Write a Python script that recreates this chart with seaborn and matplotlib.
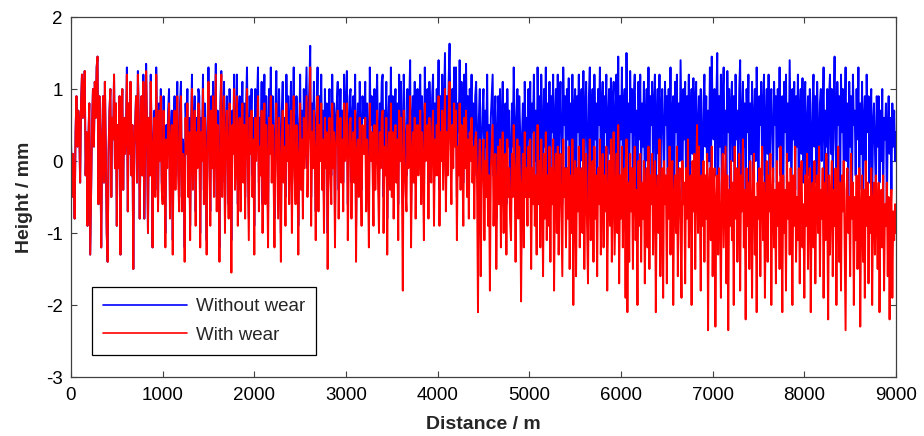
import numpy as np
import pandas as pd
import matplotlib
matplotlib.use("Agg")
import matplotlib.pyplot as plt
import seaborn as sns

# Height profiles sampled every 10 m (0 ... 9000 m), one row = 100 m
without_wear = [
    0.3, -0.5, 0.1, -0.2, -0.8, 0.4, 0.9, 0.2, 0.7, 0.5,
    -0.3, 0.8, 1.2, 0.6, 0.9, 1.25, -0.2, 0.4, -0.9, 0.3,
    0.8, -1.3, -0.4, 0.5, 1.0, 0.2, 1.1, 0.6, 1.3, 1.45,
    -0.6, 0.9, 0.4, -1.2, 0.2, 0.9, -0.3, 1.1, 0.2, -1.0,
    -1.4, 0.1, 0.7, 1.0, -0.5, 0.6, 0.3, 1.2, -0.1, 0.8,
    -0.9, 0.5, -0.1, 0.9, -1.3, 0.3, 1.0, -0.4, 0.6, 0.1,
    0.4, 1.3, -0.7, 0.8, 0.1, 1.1, -0.2, 0.5, -1.5, 0.2,
    0.5, 0.9, -0.3, 1.25, 0.6, -0.8, 0.4, 0.9, -0.2, 1.2,
    -0.8, 0.2, 1.35, 0.4, -1.0, 0.6, -0.2, 1.2, 0.3, -1.2,
    0.3, 0.7, -0.4, 1.3, 0.5, -0.6, 0.8, 0.1, 1.0, -0.3,
    -0.4, 0.9, 0.1, -1.0, 0.5, 0.1, 0.7, 1.0, -0.6, 0.4,
    0.7, -1.1, 0.4, 0.9, -0.2, 0.6, 1.1, 0.0, -0.5, 0.8,
    1.1, -0.5, 0.3, 0.2, -1.2, 0.8, 0.3, 1.0, -0.3, 0.6,
    -0.9, 0.5, 1.2, -0.2, 0.4, 0.9, -0.7, 0.6, 0.1, 1.0,
    0.9, -1.0, 0.6, 0.2, 1.2, -0.4, 0.8, 0.2, -1.1, 0.5,
    1.3, 0.4, -0.7, 0.9, 0.1, 1.1, -0.3, 0.6, 1.35, -0.5,
    0.7, 0.1, -1.2, 0.8, 1.25, -0.3, 0.5, 1.1, -0.8, 0.4,
    0.9, 0.2, -0.6, 1.0, 0.4, -1.1, 0.7, 0.3, 1.2, -0.2,
    0.3, 1.2, -0.6, 0.6, 0.9, -0.4, 0.5, 1.1, 0.0, 0.8,
    -0.5, 0.7, 1.3, 0.2, -0.8, 0.9, 0.4, 1.0, -0.2, 0.6,
    -0.9, 1.0, 0.4, 0.8, 1.3, -0.3, 0.6, 0.2, 1.1, -0.6,
    0.6, 1.2, -0.2, 0.9, 0.3, -0.8, 1.0, 0.5, 1.3, 0.1,
    0.9, 0.2, -0.8, 0.7, 1.25, 0.4, -0.4, 1.0, 0.3, -1.0,
    0.7, 1.1, 0.1, 0.6, -0.5, 1.2, 0.4, 0.9, -0.2, 0.5,
    1.1, -0.6, 0.6, 1.3, 0.2, -0.2, 0.9, 0.5, -0.9, 0.4,
    1.2, 0.0, 0.7, -0.4, 1.0, 0.3, 0.8, 1.3, -0.1, 0.6,
    1.0, 1.6, -0.5, 0.8, 0.3, 1.1, 0.5, -0.7, 0.6, 1.3,
    -0.3, 0.9, 0.4, 1.2, 0.0, 0.7, -0.6, 1.0, 0.3, 0.8,
    -1.0, 0.5, 1.0, 0.2, -0.2, 1.2, 0.3, 0.8, -0.8, 0.6,
    0.8, 1.1, -0.4, 0.5, 1.0, 0.1, 0.7, -0.3, 1.2, 0.4,
    0.7, 1.25, -0.6, 0.4, 0.9, 1.0, -0.3, 0.6, 0.9, 0.2,
    1.2, -0.9, 0.5, 0.8, 0.0, 1.1, 0.4, -0.4, 0.9, 0.6,
    0.6, 1.1, -0.2, 0.8, 0.3, -0.7, 1.3, 0.5, 0.9, 0.4,
    -0.4, 1.0, 0.1, 0.7, 1.2, 0.2, -0.5, 0.8, 0.4, 1.1,
    1.2, -0.5, 0.7, 0.3, 1.1, -0.8, 0.5, 0.9, 0.1, 1.3,
    0.0, 0.9, -0.3, 0.6, 1.0, 0.2, 0.8, -0.6, 1.2, 0.5,
    1.1, 0.3, -0.6, 1.2, 0.6, 0.1, -0.2, 1.0, 0.4, 0.8,
    1.4, -0.7, 0.5, 0.9, 0.2, 1.1, -0.3, 0.7, 1.0, 0.3,
    0.8, 1.2, -0.1, 0.9, 0.4, -0.6, 1.3, 0.5, 0.7, 1.0,
    -0.3, 1.1, 0.6, 0.2, 0.9, 1.2, -0.4, 0.8, 0.3, 1.0,
    0.4, 1.4, -0.4, 0.9, 0.5, 1.2, 0.1, 0.8, 1.5, -0.2,
    0.9, 0.3, 1.1, 1.63, 0.6, -0.1, 1.0, 0.4, 1.3, 0.7,
    1.3, -0.5, 0.8, 0.4, 1.4, 0.2, 1.1, 0.6, -0.3, 1.2,
    0.5, 1.35, 0.1, 0.9, -0.2, 1.0, 0.6, 1.2, 0.3, 0.8,
    -0.2, 0.9, 1.1, 0.3, -0.6, 0.6, 1.0, -1.0, 0.3, 0.7,
    1.0, -0.4, 0.7, 0.2, 1.2, -0.2, 0.5, -0.8, 0.6, 0.9,
    1.2, -0.2, 0.5, 0.9, -0.8, 0.3, 0.9, 0.1, 1.0, -0.5,
    0.6, 1.1, -0.3, 0.4, 0.8, -0.6, 1.0, 0.2, 0.7, -0.1,
    -0.4, 0.8, 0.2, 1.3, 0.5, -0.7, 0.6, 1.0, -0.1, 0.9,
    0.4, -1.3, 0.3, 0.8, -0.5, 1.1, 0.2, 0.6, -0.2, 1.0,
    0.3, 1.1, -0.6, 0.8, 0.4, 1.2, 0.0, 0.7, -0.4, 1.3,
    0.4, 0.9, -0.3, 1.2, 0.5, -0.7, 1.0, 0.2, 1.3, -0.2,
    0.8, 0.1, 1.1, -0.5, 0.9, 0.4, 1.2, -0.8, 0.6, 1.0,
    0.0, 1.2, -0.3, 0.7, 1.1, 0.2, -0.6, 1.3, 0.5, 0.9,
    -0.2, 1.0, 0.3, 1.15, -0.5, 0.8, 0.1, 1.2, -0.4, 0.7,
    1.0, -0.6, 0.9, 0.4, 1.2, -0.2, 0.8, 1.0, 0.0, 1.25,
    -0.5, 0.7, 1.1, 0.2, -0.7, 0.9, 1.3, -0.1, 0.6, 1.0,
    -0.4, 1.2, 0.3, 0.8, -0.6, 1.0, 0.5, 1.3, -0.3, 0.7,
    1.1, -0.2, 0.9, 0.4, 1.2, -0.8, 0.6, 1.0, 0.1, 1.15,
    -0.4, 0.8, 1.1, -0.3, 0.5, 1.2, 0.0, 1.45, -0.6, 0.9,
    0.3, 1.3, -0.2, 0.7, 1.0, -0.7, 1.5, 0.2, 0.8, -0.4,
    1.25, 0.4, 1.0, -0.5, 0.9, 1.2, 0.1, 0.7, -0.8, 1.1,
    0.3, 1.2, -0.3, 0.8, 0.2, 1.1, -0.6, 0.6, 1.0, 0.0,
    1.3, -0.4, 0.9, 0.5, 1.1, -0.2, 0.8, 1.2, -0.7, 0.6,
    1.0, 0.1, 1.2, -0.5, 0.7, 1.0, 0.3, -0.3, 1.1, 0.5,
    0.9, -0.6, 1.0, 0.2, 1.3, -0.2, 0.7, 0.9, -0.7, 1.1,
    0.4, 1.2, -0.3, 0.8, 0.0, 1.4, 0.5, -0.5, 1.0, 0.3,
    1.1, -0.4, 0.9, 0.2, 1.2, -0.8, 0.7, 1.0, 0.1, 1.15,
    -0.3, 0.8, 1.1, -0.6, 0.5, 0.9, -0.2, 1.0, 0.3, -0.5,
    0.8, 1.2, 0.2, 0.9, -0.3, 0.7, 0.0, 1.3, -0.6, 1.45,
    0.6, 0.3, 1.0, -0.2, 0.8, 1.5, -0.4, 0.9, 0.2, 1.2,
    -0.5, 0.9, 1.3, 0.1, 0.7, -0.3, 1.25, 0.4, 1.0, -0.6,
    0.8, 1.1, 0.0, 0.9, -0.5, 1.2, 0.3, 0.7, -0.2, 1.0,
    1.4, -0.4, 0.6, 1.1, 0.2, 0.8, -0.7, 1.0, 0.4, 1.2,
    -0.3, 0.8, 0.1, 1.1, -0.6, 0.6, 1.0, 0.0, 1.3, 0.5,
    -0.4, 0.9, 0.5, 1.1, -0.2, 0.8, 1.2, -0.7, 0.6, 1.0,
    0.1, 1.2, -0.5, 0.7, 1.0, 0.3, -0.3, 1.1, 0.5, 0.9,
    -0.6, 1.0, 0.2, 1.3, -0.2, 0.7, 0.9, -0.7, 1.1, 0.4,
    1.2, -0.3, 0.8, 0.0, 1.4, 0.5, -0.5, 1.0, 0.3, 1.1,
    -0.4, 0.9, 0.2, 1.2, -0.8, 0.7, 1.0, 0.1, 1.15, -0.3,
    0.8, 1.1, -0.6, 0.5, 0.9, -0.2, 1.0, 0.3, -0.5, 0.8,
    1.2, 0.2, 0.9, -0.3, 1.1, 0.4, -0.7, 0.8, 1.0, 0.0,
    0.6, 1.3, -0.4, 0.7, 0.2, 1.0, -0.6, 0.9, 1.2, 0.1,
    1.0, -0.5, 0.8, 1.45, 0.3, -0.2, 1.1, 0.5, 0.9, -0.7,
    1.2, 0.4, 1.0, -0.3, 0.6, 1.3, 0.0, 0.8, -0.5, 1.1,
    0.2, 0.9, -0.6, 1.2, 0.5, 0.7, -0.2, 1.0, 0.3, 1.3,
    -0.4, 0.8, 0.1, 1.1, -0.8, 0.6, 0.9, 0.0, 1.2, 0.4,
    0.9, -0.3, 0.7, 1.0, -0.6, 0.5, 0.8, 0.2, -0.5, 0.9,
    0.2, 0.9, -0.3, 0.7, 0.0, 1.0, -0.6, 0.6, 0.3, 0.8,
    -0.7, 0.5, 0.9, 0.1, 0.6, -0.4, 0.8, 0.2, 0.7, 0.0,
    0.4,
]

with_wear = [
    0.3, -0.5, 0.1, -0.2, -0.8, 0.4, 0.9, 0.2, 0.7, 0.5,
    -0.3, 0.8, 1.2, 0.6, 0.9, 1.25, -0.2, 0.4, -0.9, 0.3,
    0.8, -1.3, -0.4, 0.5, 1.0, 0.2, 1.1, 0.6, 1.3, 1.45,
    -0.6, 0.9, 0.4, -1.2, 0.2, 0.9, -0.3, 1.1, 0.2, -1.0,
    -1.4, 0.1, 0.7, 1.0, -0.5, 0.6, 0.3, 1.2, -0.1, 0.8,
    -0.9, 0.5, -0.1, 0.9, -1.3, 0.3, 1.0, -0.4, 0.6, 0.1,
    0.4, 1.2, -0.7, 0.8, 0.1, 1.1, -0.2, 0.5, -1.5, 0.2,
    0.5, 0.9, -0.3, 1.2, 0.6, -0.8, 0.4, 0.9, -0.2, 1.1,
    -0.8, 0.2, 1.25, 0.4, -1.0, 0.6, -0.2, 1.1, 0.3, -1.2,
    0.2, 0.6, -0.5, 1.2, 0.4, -0.7, 0.7, 0.0, 0.9, -0.4,
    -0.6, 0.7, -0.1, -1.2, 0.3, -0.1, 0.5, 0.8, -0.8, 0.2,
    0.5, -1.3, 0.2, 0.7, -0.4, 0.4, 0.9, -0.2, -0.7, 0.6,
    0.9, -0.7, 0.1, 0.0, -1.4, 0.6, 0.1, 0.8, -0.5, 0.4,
    -1.1, 0.3, 1.0, -0.4, 0.2, 0.7, -0.9, 0.4, -0.1, 0.8,
    0.7, -1.2, 0.4, 0.0, 1.0, -0.6, 0.6, 0.0, -1.3, 0.3,
    1.1, 0.2, -0.9, 0.7, -0.1, 0.9, -0.5, 0.4, 1.2, -0.7,
    0.5, -0.1, -1.4, 0.6, 1.2, -0.5, 0.3, 0.9, -1.0, 0.2,
    0.7, 0.0, -0.8, 0.8, 0.2, -1.55, 0.5, 0.1, 1.0, -0.4,
    0.0, 0.9, -0.9, 0.3, 0.6, -0.7, 0.2, 0.8, -0.3, 0.5,
    -0.8, 0.4, 1.0, -0.1, -1.1, 0.6, 0.1, 0.7, -0.5, 0.3,
    -1.3, 0.6, 0.0, 0.4, 0.9, -0.7, 0.2, -0.2, 0.7, -1.0,
    0.2, 0.8, -0.6, 0.5, -0.1, -1.2, 0.6, 0.1, 0.9, -0.3,
    0.5, -0.2, -1.2, 0.3, 0.8, 0.0, -0.8, 0.6, -0.1, -1.4,
    0.3, 0.7, -0.3, 0.2, -0.9, 0.8, 0.0, 0.5, -0.6, 0.1,
    0.7, -1.0, 0.2, 0.9, -0.2, -0.6, 0.5, 0.1, -1.3, 0.0,
    0.8, -0.4, 0.3, -0.8, 0.6, -0.1, 0.4, 0.9, -0.5, 0.2,
    0.6, 1.3, -0.9, 0.4, -0.1, 0.7, 0.1, -1.1, 0.2, 0.9,
    -0.7, 0.5, 0.0, 0.8, -0.4, 0.3, -1.0, 0.6, -0.1, 0.4,
    -1.5, 0.1, 0.6, -0.2, -0.6, 0.8, -0.1, 0.4, -1.2, 0.2,
    0.4, 0.7, -0.8, 0.1, 0.6, -0.3, 0.3, -0.7, 0.8, 0.0,
    0.2, 0.8, -1.1, -0.1, 0.5, 0.6, -0.8, 0.2, 0.4, -0.3,
    0.7, -1.4, 0.1, 0.3, -0.5, 0.6, -0.1, -0.9, 0.5, 0.1,
    0.1, 0.6, -0.7, 0.3, -0.2, -1.2, 0.8, 0.0, 0.4, -0.1,
    -0.9, 0.5, -0.4, 0.2, 0.7, -0.3, -1.0, 0.4, -0.1, 0.6,
    0.7, -1.0, 0.2, -0.2, 0.6, -1.3, 0.0, 0.4, -0.4, 0.8,
    -0.5, 0.4, -0.8, 0.1, 0.5, -0.3, 0.3, -1.1, 0.7, 0.0,
    0.6, -0.2, -1.8, 0.7, 0.1, -0.4, -0.7, 0.5, -0.1, 0.3,
    0.9, -1.2, 0.0, 0.4, -0.3, 0.6, -0.8, 0.2, 0.5, -0.2,
    0.3, 0.7, -0.6, 0.4, -0.1, -1.1, 0.8, 0.0, 0.2, 0.5,
    -0.8, 0.6, 0.1, -0.3, 0.4, 0.7, -0.9, 0.3, -0.2, 0.5,
    -0.2, 0.9, -0.9, 0.4, 0.0, 0.7, -0.4, 0.3, 1.0, -0.7,
    0.4, -0.2, 0.6, 1.1, 0.1, -0.6, 0.5, -0.1, 0.8, 0.2,
    0.7, -1.1, 0.2, -0.2, 0.8, -0.4, 0.5, 0.0, -0.9, 0.6,
    -0.1, 0.7, -0.5, 0.3, -0.8, 0.4, 0.0, 0.6, -0.3, 0.2,
    -0.8, 0.3, 0.4, -0.3, -2.1, -0.1, 0.3, -1.6, -0.4, 0.1,
    0.3, -1.1, 0.0, -0.5, 0.4, -0.9, -0.2, -1.8, -0.1, 0.2,
    0.5, -0.9, -0.2, 0.1, -1.5, -0.4, 0.2, -0.6, 0.3, -1.2,
    -0.1, 0.4, -1.0, -0.3, 0.1, -1.3, 0.3, -0.5, -0.1, -0.8,
    -1.1, 0.1, -0.5, 0.5, -0.2, -1.4, -0.1, 0.3, -0.8, 0.2,
    -0.3, -1.95, -0.4, 0.1, -1.2, 0.4, -0.5, -0.1, -0.9, 0.2,
    -0.5, 0.3, -1.5, -0.1, -0.6, 0.4, -0.9, -0.2, -1.3, 0.5,
    -0.6, 0.0, -1.2, 0.3, -0.4, -1.6, 0.1, -0.8, 0.4, -1.1,
    -0.2, -0.9, 0.2, -1.4, -0.1, -0.6, 0.3, -1.8, -0.3, 0.1,
    -1.0, 0.2, -1.3, -0.3, 0.1, -0.8, -1.6, 0.3, -0.5, -0.1,
    -1.2, -0.1, -0.8, 0.2, -1.5, -0.2, -1.0, 0.3, -2.0, -0.4,
    0.0, -1.6, -0.1, -0.7, 0.2, -1.2, -0.3, -0.1, -1.0, 0.3,
    -1.5, -0.4, 0.1, -0.9, -1.7, -0.2, 0.3, -1.1, -0.5, 0.0,
    -1.4, 0.2, -0.8, -0.2, -1.6, -0.1, -0.6, 0.3, -1.3, -0.4,
    0.1, -1.2, -0.2, -0.7, 0.2, -1.8, -0.5, 0.0, -0.9, 0.3,
    -1.4, -0.3, 0.4, -1.3, -0.6, 0.1, -1.0, 0.5, -1.7, -0.2,
    -0.8, 0.2, -1.2, -0.4, -0.1, -1.9, 0.3, -2.1, -0.3, -1.4,
    0.1, -0.7, -0.1, -1.5, -0.2, 0.2, -1.1, -0.4, -2.0, 0.0,
    -0.9, 0.1, -1.4, -0.3, -0.8, 0.0, -1.7, -0.5, -0.1, -1.2,
    0.2, -1.5, -0.2, -0.6, 0.1, -1.3, -0.3, 0.0, -2.1, -0.5,
    -0.2, -1.0, 0.3, -1.6, -0.4, -0.1, -1.9, 0.0, -0.6, -0.2,
    -1.7, -0.1, -0.8, 0.2, -1.3, -0.3, 0.0, -2.0, -0.5, -0.2,
    -1.0, 0.2, -1.6, -0.4, -0.1, -0.9, -1.9, 0.0, -0.6, -0.3,
    -1.7, -0.1, -0.8, 0.3, -1.2, -0.4, -0.2, -2.0, 0.0, -0.7,
    0.1, -1.5, -0.3, 0.5, -1.0, 0.2, -0.6, -1.8, -0.2, -0.9,
    0.0, -1.4, -0.2, -0.8, 0.1, -2.35, -0.3, -0.1, -1.1, 0.2,
    -1.6, -0.4, -0.1, -2.3, -0.6, -0.2, -1.3, -0.1, -0.8, -1.9,
    -0.3, 0.1, -1.2, -0.5, 0.2, -1.7, -0.2, -2.35, -0.4, -0.9,
    0.0, -1.1, -0.3, -2.0, 0.2, -0.8, -0.1, -1.4, -0.5, 0.1,
    -1.8, -0.2, -0.7, 0.3, -1.2, -0.4, -2.2, -0.1, -0.9, -0.3,
    -1.5, 0.0, -0.6, -1.9, -0.2, 0.1, -1.3, -0.5, -2.1, -0.3,
    -0.8, -0.1, -1.6, -0.4, 0.2, -1.1, -0.3, -1.9, -0.6, 0.0,
    -1.4, -0.2, -0.7, 0.1, -2.0, -0.5, -0.1, -1.2, -0.4, -1.7,
    0.0, -0.9, -0.3, -1.5, 0.2, -0.6, -2.1, -0.2, -1.0, -0.4,
    -1.8, 0.1, -0.8, -0.3, -1.3, -0.1, -0.6, -2.0, -0.2, -0.9,
    0.2, -1.4, -0.5, -1.1, -0.1, -1.7, -0.3, 0.0, -1.2, -0.6,
    -1.9, -0.2, -0.9, 0.1, -1.5, -0.4, -0.1, -2.1, -0.6, -0.3,
    -1.2, 0.0, -1.7, -0.5, -0.2, -1.0, 0.2, -1.6, -0.4, -0.8,
    -0.1, -1.9, -0.3, -1.1, 0.1, -0.7, -2.2, -0.2, -1.3, -0.5,
    0.0, -1.6, -0.4, -0.9, -0.1, -2.0, -0.6, 0.2, -1.4, -0.3,
    -1.8, -0.2, -0.7, 0.0, -1.2, -2.35, -0.4, -0.1, -1.0, -0.5,
    -1.6, 0.1, -0.8, -0.3, -2.0, -0.5, -1.1, -0.2, -1.5, -0.6,
    -0.1, -2.3, -0.7, -0.2, -1.4, -0.4, -1.9, 0.0, -0.9, -0.3,
    -1.7, -0.5, -1.0, -0.1, -2.0, -0.6, -0.3, -1.3, -0.2, -0.8,
    -1.5, -0.3, -2.1, -0.7, -0.4, -1.2, -0.2, -1.8, -0.6, -0.9,
    -0.3, -1.6, -0.5, -2.2, -0.8, -0.4, -1.9, -0.7, -1.1, -0.6,
    -1.0,
]

n_pts = min(len(without_wear), len(with_wear))
distance = [10 * i for i in range(n_pts)]  # sampling positions in m

x_ticks = [0, 1000, 2000, 3000, 4000, 5000, 6000, 7000, 8000, 9000]
y_ticks = [-3, -2, -1, 0, 1, 2]

sns.set_style("ticks")
plt.rcParams['font.family'] = ['Liberation Sans', 'DejaVu Sans']
plt.rcParams['axes.unicode_minus'] = False
plt.rcParams['xtick.direction'] = 'in'
plt.rcParams['ytick.direction'] = 'in'

fig = plt.figure(figsize=(9.24, 4.36), dpi=100)
ax = fig.add_axes([0.0768, 0.1353, 0.8929, 0.8257])

df_b = pd.DataFrame({"Distance": distance, "Height": without_wear[:n_pts]})
df_r = pd.DataFrame({"Distance": distance, "Height": with_wear[:n_pts]})
sns.lineplot(data=df_b, x="Distance", y="Height", ax=ax, color="#0000ff",
             linewidth=1.4, label="Without wear", estimator=None)
sns.lineplot(data=df_r, x="Distance", y="Height", ax=ax, color="#ff0000",
             linewidth=1.4, label="With wear", estimator=None)

ax.set_xlim(0, 9000)
ax.set_ylim(-3, 2)
ax.set_xticks(x_ticks)
ax.set_yticks(y_ticks)
ax.tick_params(axis='both', which='both', direction='in', top=True, right=True,
               length=4, width=0.8, labelsize=13.5, colors='#404040',
               labelcolor='black')
ax.tick_params(axis='x', pad=7)
ax.tick_params(axis='y', pad=6)
for s in ax.spines.values():
    s.set_visible(True)
    s.set_color('#404040')
    s.set_linewidth(0.9)

ax.set_xlabel("Distance / m", fontsize=14, fontweight='bold', labelpad=9)
ax.set_ylabel("Height / mm", fontsize=14, fontweight='bold', labelpad=9)

leg = ax.legend(loc='lower left', bbox_to_anchor=(0.025, 0.061), borderaxespad=0,
                fancybox=False, edgecolor='black', framealpha=1,
                fontsize=13.5, handlelength=4.5, handletextpad=0.45,
                borderpad=0.6, labelspacing=0.6)
for h in leg.get_lines():
    h.set_linewidth(1.2)
leg.get_frame().set_linewidth(0.9)

fig.savefig("out.png", dpi=100, facecolor='white')
